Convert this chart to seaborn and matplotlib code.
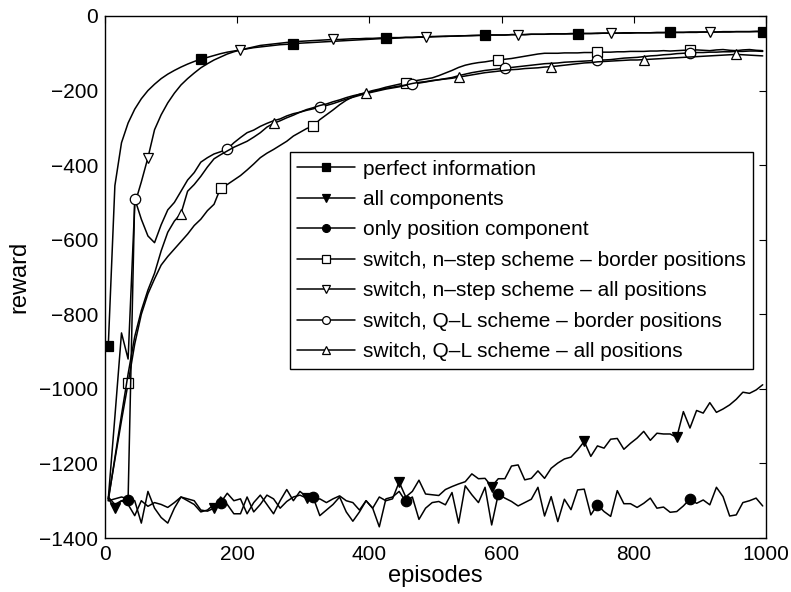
import matplotlib
matplotlib.use("Agg")
import matplotlib.pyplot as plt
import numpy as np
import seaborn as sns

# episodes sampled every 10 steps
episodes = np.arange(5, 1000, 10)

perfect_info = [
    -885, -455, -340, -287, -250, -222, -200, -183, -168, -156,
    -146, -137, -129, -122, -116, -111, -106, -101, -97, -94,
    -91, -88, -85, -83, -81, -79, -77, -76, -75, -73,
    -72, -71, -70, -69, -68, -67, -66, -65, -64, -63,
    -62, -61, -60, -60, -59, -58, -58, -57, -57, -56,
    -55, -55, -54, -54, -53, -53, -52, -52, -51, -51,
    -51, -50, -50, -50, -49, -49, -49, -48, -48, -48,
    -48, -47, -47, -47, -47, -46, -46, -46, -46, -46,
    -45, -45, -45, -45, -45, -44, -44, -44, -44, -44,
    -43, -43, -43, -43, -43, -42, -42, -42, -42, -42,
]

all_components = [
    -1295, -1320, -1300, -1310, -1340, -1300, -1315, -1305, -1310, -1318,
    -1305, -1290, -1295, -1300, -1325, -1328, -1320, -1290, -1310, -1335,
    -1335, -1290, -1330, -1310, -1285, -1295, -1320, -1302, -1290, -1285,
    -1293, -1300, -1295, -1305, -1295, -1287, -1300, -1305, -1325, -1300,
    -1320, -1290, -1300, -1295, -1250, -1290, -1275, -1245, -1282, -1284,
    -1286, -1270, -1262, -1255, -1249, -1228, -1241, -1240, -1262, -1241,
    -1241, -1207, -1204, -1244, -1240, -1220, -1240, -1213, -1199, -1188,
    -1183, -1164, -1141, -1181, -1153, -1159, -1135, -1133, -1162, -1146,
    -1132, -1114, -1138, -1119, -1121, -1121, -1130, -1061, -1105, -1058,
    -1065, -1037, -1063, -1054, -1043, -1028, -1009, -1012, -1003, -989,
]

position_only = [
    -1290, -1310, -1300, -1297, -1300, -1360, -1275, -1320, -1345, -1360,
    -1320, -1290, -1300, -1310, -1330, -1325, -1310, -1305, -1280, -1300,
    -1295, -1335, -1305, -1285, -1310, -1335, -1300, -1270, -1300, -1275,
    -1290, -1291, -1340, -1325, -1310, -1290, -1330, -1355, -1330, -1300,
    -1320, -1370, -1295, -1290, -1275, -1302, -1290, -1350, -1320, -1305,
    -1302, -1311, -1278, -1360, -1260, -1284, -1305, -1264, -1365, -1282,
    -1293, -1302, -1314, -1305, -1296, -1264, -1341, -1289, -1356, -1296,
    -1324, -1271, -1269, -1338, -1311, -1329, -1342, -1273, -1308, -1308,
    -1318, -1307, -1293, -1320, -1317, -1331, -1329, -1314, -1295, -1307,
    -1298, -1311, -1264, -1289, -1341, -1338, -1305, -1300, -1293, -1314,
]

nstep_border = [
    -1295, -1190, -1085, -985, -880, -800, -745, -705, -668, -645,
    -625, -605, -585, -562, -545, -522, -505, -461, -452, -440,
    -428, -413, -397, -380, -368, -358, -347, -336, -322, -312,
    -302, -295, -278, -265, -252, -238, -226, -217, -210, -205,
    -200, -196, -191, -187, -183, -179, -175, -172, -169, -166,
    -160, -153, -146, -138, -132, -128, -125, -123, -120, -118,
    -116, -114, -111, -108, -105, -102, -100, -100, -100, -99,
    -99, -99, -98, -98, -97, -97, -97, -96, -96, -95,
    -95, -95, -94, -94, -93, -94, -93, -92, -92, -91,
    -92, -93, -91, -90, -92, -93, -91, -90, -92, -93,
]

nstep_all = [
    -1295, -1075, -850, -920, -505, -445, -380, -305, -265, -233,
    -207, -185, -168, -153, -139, -128, -118, -110, -102, -96,
    -91, -87, -83, -79, -77, -75, -73, -71, -70, -68,
    -67, -66, -65, -64, -63, -63, -62, -61, -61, -60,
    -60, -59, -59, -58, -58, -57, -57, -56, -56, -55,
    -55, -54, -54, -53, -53, -52, -52, -52, -51, -51,
    -51, -50, -50, -50, -49, -49, -49, -48, -48, -48,
    -47, -47, -47, -47, -46, -46, -46, -46, -45, -45,
    -45, -45, -45, -44, -44, -44, -44, -44, -43, -43,
    -43, -43, -43, -42, -42, -42, -42, -42, -41, -41,
]

ql_border = [
    -1300, -1295, -1290, -1295, -490, -545, -590, -608, -560, -520,
    -500, -470, -440, -420, -392, -380, -370, -364, -357, -340,
    -326, -313, -306, -296, -288, -281, -276, -268, -262, -258,
    -253, -249, -244, -240, -235, -229, -223, -218, -213, -208,
    -204, -200, -196, -193, -190, -186, -182, -180, -177, -174,
    -171, -168, -165, -160, -156, -152, -149, -146, -144, -142,
    -140, -138, -136, -134, -132, -130, -128, -127, -126, -124,
    -123, -122, -121, -120, -119, -118, -117, -115, -113, -112,
    -111, -109, -107, -106, -104, -103, -101, -100, -99, -98,
    -98, -97, -97, -96, -96, -95, -95, -94, -94, -95,
]

ql_all = [
    -1300, -1185, -1070, -960, -860, -790, -735, -690, -630, -580,
    -550, -530, -470, -452, -430, -405, -383, -372, -362, -352,
    -344, -336, -325, -313, -298, -288, -281, -273, -266, -258,
    -251, -246, -240, -236, -230, -225, -219, -214, -210, -207,
    -202, -198, -194, -191, -188, -185, -181, -178, -176, -173,
    -171, -169, -167, -164, -161, -158, -155, -152, -150, -148,
    -146, -144, -143, -141, -140, -139, -137, -136, -134, -132,
    -130, -128, -126, -125, -123, -122, -121, -120, -119, -118,
    -118, -117, -116, -115, -114, -113, -112, -111, -110, -109,
    -108, -107, -106, -105, -104, -103, -104, -105, -106, -107,
]

series = [
    ("perfect information", perfect_info, "s", "k", [0, 14, 28, 42, 57, 71, 85, 99]),
    ("all components", all_components, "v", "k", [1, 16, 30, 44, 58, 72, 86]),
    ("only position component", position_only, "o", "k", [3, 17, 31, 45, 59, 74, 88]),
    ("switch, n\u2013step scheme \u2013 border positions", nstep_border, "s", "w", [3, 17, 31, 45, 59, 74, 88]),
    ("switch, n\u2013step scheme \u2013 all positions", nstep_all, "v", "w", [6, 20, 34, 48, 62, 76, 91]),
    ("switch, Q\u2013L scheme \u2013 border positions", ql_border, "o", "w", [4, 18, 32, 46, 60, 74, 88]),
    ("switch, Q\u2013L scheme \u2013 all positions", ql_all, "^", "w", [11, 25, 39, 53, 67, 81, 95]),
]

sns.set_style("white")
plt.rcParams["font.family"] = ["Liberation Sans", "DejaVu Sans"]
plt.rcParams["text.color"] = "k"
plt.rcParams["axes.labelcolor"] = "k"
plt.rcParams["xtick.color"] = "k"
plt.rcParams["ytick.color"] = "k"

fig = plt.figure(figsize=(7.91, 5.92), dpi=100)
ax = fig.add_axes([0.1327, 0.0912, 0.8357, 0.8818])

for label, values, marker, face, marks in series:
    sns.lineplot(
        x=episodes, y=values, ax=ax, color="k", linewidth=1.1,
        marker=marker, markersize=7.5, markerfacecolor=face,
        markeredgecolor="k", markeredgewidth=0.9, markevery=marks,
        label=label,
    )

ax.set_xlim(0, 1000)
ax.set_ylim(-1400, 0)
ax.set_xticks(np.arange(0, 1001, 200))
ax.set_yticks(np.arange(-1400, 1, 200))
ax.set_yticklabels([f"\u2212{abs(v)}" if v < 0 else str(v) for v in range(-1400, 1, 200)])
ax.tick_params(direction="in", top=True, right=True, labelsize=15, length=5, width=0.8, pad=5)
for spine in ax.spines.values():
    spine.set_color("k")
    spine.set_linewidth(1.0)
ax.set_xlabel("episodes", fontsize=17, labelpad=1)
ax.set_ylabel("reward", fontsize=17, labelpad=6)

leg = ax.legend(
    loc="upper right", bbox_to_anchor=(0.98, 0.739), fontsize=15,
    frameon=True, fancybox=False, edgecolor="k", framealpha=1,
    markerscale=0.75, handlelength=2.8, handletextpad=0.35,
    labelspacing=0.55, borderpad=0.35, borderaxespad=0,
)
leg.get_frame().set_linewidth(1.0)

fig.savefig("out.png", dpi=100)
plt.close(fig)
